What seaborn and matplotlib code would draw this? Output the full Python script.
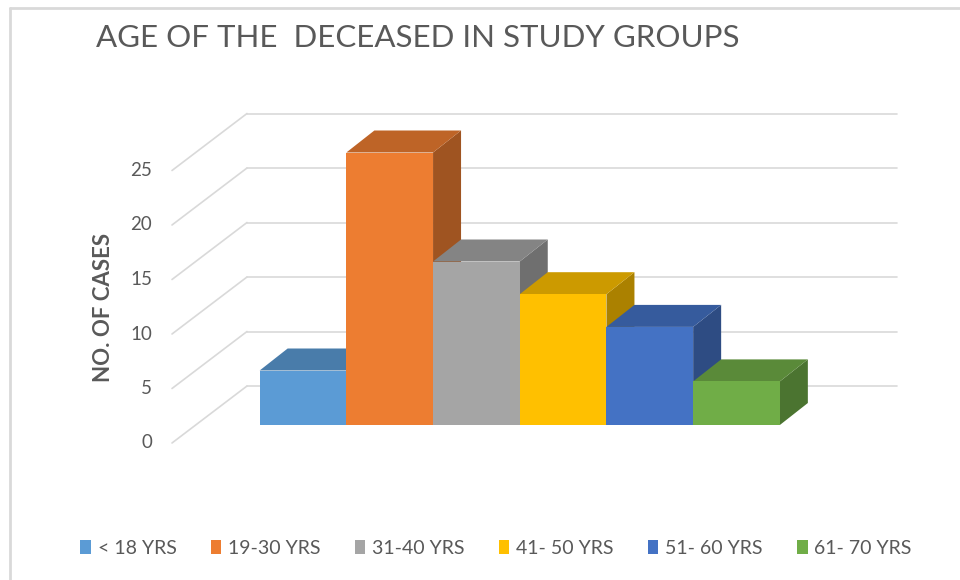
import matplotlib
matplotlib.use("Agg")
import matplotlib.pyplot as plt
import matplotlib.colors as mcolors
from matplotlib.patches import Polygon, Patch
import seaborn as sns

# data
groups = ["< 18 YRS", "19-30 YRS", "31-40 YRS", "41- 50 YRS", "51- 60 YRS", "61- 70 YRS"]
cases = [5, 25, 15, 12, 9, 4]
colors = ["#5B9BD5", "#ED7D31", "#A5A5A5", "#FFC000", "#4472C4", "#70AD47"]
ticks = [0, 5, 10, 15, 20, 25]

sns.set_theme(style="white")
plt.rcParams["font.family"] = ["Lato", "DejaVu Sans"]
TXT = "#595959"
GRID = "#d9d9d9"

fig = plt.figure(figsize=(9.6, 5.8), dpi=100)
ax = fig.add_axes([20 / 960, 100 / 580, 930 / 960, 390 / 580])

sns.barplot(x=groups, y=cases, hue=groups, palette=colors, width=1.0,
            saturation=1, legend=False, linewidth=0, ax=ax)

# oblique "3D" projection offsets, in data units (category, cases)
UX, UY = 86.7, 10.9            # pixels per category / per case
bar_d = (28 / UX, 22 / UY)      # depth of each bar
back_d = (51 / UX, 39 / UY)     # back wall relative to bar fronts
front_d = (-24 / UX, -18 / UY)  # front edge of side wall
x_wall = (247 - 303) / UX       # back-left corner of back wall
x_right = (897 - 303) / UX

# back wall grid + side wall diagonals
for v in ticks:
    ax.plot([x_wall, x_right], [v + back_d[1], v + back_d[1]], color=GRID, lw=1.2, zorder=1)
    xf = x_wall - (back_d[0] - front_d[0])
    ax.plot([xf, x_wall], [v + front_d[1], v + back_d[1]], color=GRID, lw=1.2, zorder=1)
    ax.text(xf - 20 / UX, v + front_d[1], str(v), ha="right", va="center",
            fontsize=13.5, color=TXT)

bars = sorted(ax.patches, key=lambda p: p.get_x())
for i, (p, c) in enumerate(zip(bars, colors)):
    x0, w, h = p.get_x(), p.get_width(), p.get_height()
    dx, dy = bar_d
    rgb = mcolors.to_rgb(c)
    top_c = tuple(min(1, k * 0.8) for k in rgb)
    side_c = tuple(min(1, k * 0.67) for k in rgb)
    side = Polygon([(x0 + w, 0), (x0 + w, h), (x0 + w + dx, h + dy), (x0 + w + dx, dy)],
                   closed=True, facecolor=side_c, edgecolor="none", zorder=3 + 3 * i)
    top = Polygon([(x0, h), (x0 + w, h), (x0 + w + dx, h + dy), (x0 + dx, h + dy)],
                  closed=True, facecolor=top_c, edgecolor="none", zorder=4 + 3 * i)
    ax.add_patch(side)
    ax.add_patch(top)
    p.set_zorder(5 + 3 * i)

# axes spans pixel rows 90..480 of the image
ax.set_xlim((20 - 303) / UX, (950 - 303) / UX)
ax.set_ylim((425 - 480) / UY, (425 - 90) / UY)
ax.axis("off")

fig.text(96 / 960, 1 - 38 / 580, "AGE OF THE  DECEASED IN STUDY GROUPS",
         ha="left", va="center", fontsize=22.5, color=TXT)
fig.text(103 / 960, 1 - 307 / 580, "NO. OF CASES", rotation=90, ha="center",
         va="center", fontsize=16, fontweight="bold", color=TXT)

handles = [Patch(facecolor=c, edgecolor="none", label=g) for g, c in zip(groups, colors)]
fig.legend(handles=handles, loc="center", bbox_to_anchor=(496 / 960, 1 - 548 / 580),
           ncol=6, frameon=False, fontsize=14, handlelength=0.55, handleheight=0.7,
           handletextpad=0.35, columnspacing=1.75, labelcolor=TXT)

# chart-area border (only top/left fall inside the image)
fig.add_artist(plt.Line2D([9.5 / 960, 9.5 / 960], [0, 1 - 7.5 / 580], color=GRID, lw=2))
fig.add_artist(plt.Line2D([9.5 / 960, 1], [1 - 7.5 / 580, 1 - 7.5 / 580], color=GRID, lw=2))

fig.savefig("out.png", dpi=100)
